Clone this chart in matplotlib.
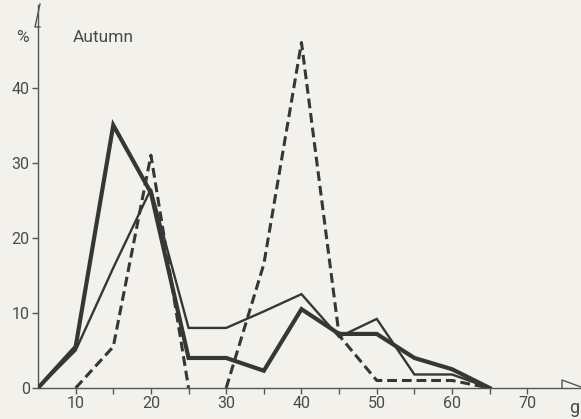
import matplotlib
matplotlib.use("Agg")
import matplotlib.pyplot as plt
from matplotlib.lines import Line2D

# Data (weight classes in g, percentage)
x_vals = [5, 10, 15, 20, 25, 30, 35, 40, 45, 50, 55, 60, 65]
thick = [0, 5.5, 35, 26, 4, 4, 2.3, 10.5, 7.2, 7.2, 4, 2.5, 0]
thin = [0, 5, 16, 26.5, 8, 8, 10.2, 12.5, 6.8, 9.2, 1.8, 1.8, 0]
x_dash = [10, 15, 20, 25, 30, 35, 40, 45, 50, 55, 60, 65]
dashed = [0, 5.5, 31, 0, 0, 16.5, 46, 7, 1, 1, 1, 0]

y_ticks = [0, 10, 20, 30, 40]
x_major = [10, 20, 30, 40, 50, 60, 70]
x_minor = [15, 25, 35, 45, 55, 65]

W, H = 581, 419
bg = "#f2f1ec"
ink = "#363636"
axcol = "#555555"
txtcol = "#4a4a4a"

fig = plt.figure(figsize=(W / 100, H / 100), dpi=100, facecolor=bg)
ax = fig.add_axes([38 / W, 31 / H, (580 - 38) / W, 383 / H])
ax.set_facecolor(bg)
ax.set_xlim(5, 77)
ax.set_ylim(0, 51)

ax.plot(x_vals, thin, color=ink, lw=1.7, solid_joinstyle="miter", zorder=3)
ax.plot(x_vals, thick, color=ink, lw=3.0, solid_joinstyle="miter", zorder=4)
# dashed curve: the stretch lying on the baseline is hidden by the axis in the original
ax.plot(x_dash[:4], dashed[:4], color=ink, lw=2.2, dashes=(3.2, 1.6), zorder=2)
ax.plot(x_dash[4:], dashed[4:], color=ink, lw=2.2, dashes=(3.2, 1.6), zorder=2)

for s in ["top", "right"]:
    ax.spines[s].set_visible(False)
for s in ["left", "bottom"]:
    ax.spines[s].set_color(axcol)
    ax.spines[s].set_linewidth(1.0)

ax.set_yticks(y_ticks)
ax.set_yticklabels([str(v) for v in y_ticks])
ax.set_xticks(x_major)
ax.set_xticklabels([str(v) for v in x_major])
ax.set_xticks(x_minor, minor=True)
ax.tick_params(axis="both", which="both", direction="out", length=4, width=1.0,
               color=axcol, labelcolor=txtcol, labelsize=11.5, pad=2)
for lab in ax.get_xticklabels() + ax.get_yticklabels():
    lab.set_fontfamily("Roboto")

# half arrowheads at axis ends
ax.add_line(Line2D([40 / W, 35 / W, 40 / W], [1 - 4 / H, 1 - 27 / H, 1 - 27 / H],
                   transform=fig.transFigure, color=axcol, lw=1.0, clip_on=False))
ax.add_line(Line2D([562 / W, 562 / W, 581 / W], [1 - 388 / H, 1 - 380 / H, 1 - 387 / H],
                   transform=fig.transFigure, color=axcol, lw=1.0, clip_on=False))

fig.text(22 / W, 1 - 38 / H, "%", fontsize=12.5, color=txtcol, family="Roboto",
         ha="center", va="center")
fig.text(73 / W, 1 - 37 / H, "Autumn", fontsize=12.5, color=txtcol, family="Roboto",
         ha="left", va="center")
fig.text(574 / W, 1 - 408 / H, "g", fontsize=13, color=txtcol, family="Roboto",
         ha="center", va="center")

fig.savefig("out.png", dpi=100, facecolor=bg)
